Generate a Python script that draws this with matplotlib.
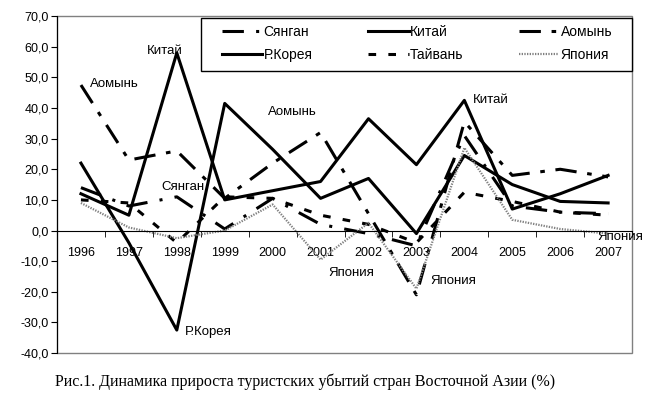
import numpy as np
import matplotlib.pyplot as plt
from matplotlib.patches import Rectangle
from matplotlib.ticker import FixedLocator, FuncFormatter

plt.rcParams['font.family'] = ['Liberation Sans', 'DejaVu Sans']

years = ["1996", "1997", "1998", "1999", "2000", "2001", "2002", "2003", "2004", "2005", "2006", "2007"]

syangan = [14, 8, 11, 0.5, 10.5, 2, -1, -5, 31, 8, 6, 5.5]
kitai = [12, 5, 58, 10, 13, 16, 36.5, 21.5, 42.5, 7, 12, 18]
aomyn = [47.5, 23, 26, 10.5, 22, 32, 5.5, -21, 35.5, 18, 20, 17.5]
korea = [22, -4, -32.5, 41.5, 26.5, 10.5, 17, -1, 24.5, 15, 9.5, 9]
taivan = [10, 9, -4, 11, 10.5, 5, 2, -4, 12.5, 9.5, 6, 5]
yaponiya = [9, 1, -2.5, 0, 8.5, -9.5, 2.5, -19, 27, 3.5, 0.5, -1]

yticks = [-40, -30, -20, -10, 0, 10, 20, 30, 40, 50, 60, 70]
caption = "Рис.1. Динамика прироста туристских убытий стран Восточной Азии (%)"

x = np.arange(len(years))

fig = plt.figure(figsize=(6.55, 4.03), dpi=100)
ax = fig.add_axes([0.087, 0.124, 0.878, 0.836])

lw = 2.2
h_sy, = ax.plot(x, syangan, color='black', lw=lw, dashes=(7, 4, 1, 4), label='Сянган')
h_ki, = ax.plot(x, kitai, color='black', lw=lw, label='Китай')
h_ao, = ax.plot(x, aomyn, color='black', lw=lw, dashes=(7, 3.5, 1.5, 3.5), label='Аомынь')
h_ko, = ax.plot(x, korea, color='black', lw=lw, label='Р.Корея')
h_ta, = ax.plot(x, taivan, color='black', lw=lw, dashes=(2.5, 4), label='Тайвань')
h_ya, = ax.plot(x, yaponiya, color='0.5', lw=1.6, dashes=(0.6, 0.6), label='Япония')

ax.set_xlim(-0.5, len(years) - 0.5)
ax.set_ylim(-40, 70)

# axes look like an old Excel chart: gray frame, black left axis, x axis through zero
for s in ['top', 'right']:
    ax.spines[s].set_visible(False)
ax.spines['bottom'].set_position(('data', 0))
ax.spines['bottom'].set_color('black')
ax.spines['left'].set_color('black')
ax.add_patch(Rectangle((0, 0), 1, 1, transform=ax.transAxes, fill=False,
                       edgecolor='0.5', lw=1.0, clip_on=False, zorder=0))

ax.set_yticks(yticks)
ax.yaxis.set_major_formatter(FuncFormatter(lambda v, p: f"{v:.1f}".replace('.', ',')))
ax.tick_params(axis='y', direction='out', length=4, labelsize=9, pad=2)

ax.set_xticks(x)
ax.set_xticklabels(years)
ax.xaxis.set_minor_locator(FixedLocator(np.arange(len(years) + 1) - 0.5))
ax.tick_params(axis='x', which='major', length=0, labelsize=9, pad=12)
ax.tick_params(axis='x', which='minor', direction='out', length=4)

# legend without its own frame, the box is drawn separately to get the wide margins
leg = ax.legend(handles=[h_sy, h_ko, h_ki, h_ta, h_ao, h_ya], ncol=3,
                loc='upper left', bbox_to_anchor=(0.287, 0.973),
                fontsize=10, frameon=False, handlelength=2.9,
                handletextpad=0.1, borderpad=0, labelspacing=0.65,
                columnspacing=4.0, borderaxespad=0)
ax.add_patch(Rectangle((0.2504, 0.8368), 0.7496, 0.157, transform=ax.transAxes,
                       facecolor='white', edgecolor='black', lw=1.0,
                       clip_on=False, zorder=4))
leg.set_zorder(5)

# point labels
notes = [
    ("Аомынь", aomyn, 0, (9, 1), 'left'),
    ("Китай", kitai, 2, (-12, 2), 'center'),
    ("Сянган", syangan, 2, (6, 10), 'center'),
    ("Р.Корея", korea, 2, (8, -2), 'left'),
    ("Аомынь", aomyn, 5, (-28, 21), 'center'),
    ("Китай", kitai, 8, (9, 0), 'left'),
    ("Япония", yaponiya, 5, (8, -13), 'left'),
    ("Япония", yaponiya, 7, (14, 8), 'left'),
    ("Япония", yaponiya, 11, (-11, -3), 'left'),
]
for txt, ser, i, off, ha in notes:
    ax.annotate(txt, xy=(x[i], ser[i]), xytext=off, textcoords='offset pixels',
                ha=ha, va='center', fontsize=9.5, annotation_clip=False)

fig.text(0.466, 0.052, caption, ha='center', va='center',
         family=['Liberation Serif', 'DejaVu Serif'], fontsize=11.5)

fig.savefig('out.png', dpi=100)
